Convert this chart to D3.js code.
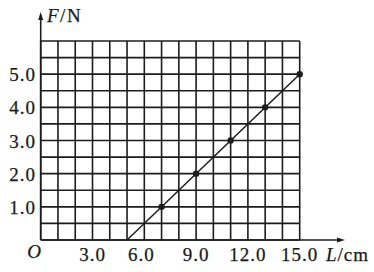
<!DOCTYPE html>
<html><head><meta charset="utf-8">
<script src="https://cdn.jsdelivr.net/npm/d3@7"></script>
<style>
html,body{margin:0;padding:0;background:#fff;}
svg text{font-family:"Liberation Serif","Times New Roman",serif;fill:#1a1a1a;stroke:#1a1a1a;stroke-width:0.25;}
</style></head>
<body><svg id="c" width="374" height="272"></svg>
<script>
// Data
const pointsL = [7.0, 9.0, 11.0, 13.0, 15.0];
const pointsF = [1.0, 2.0, 3.0, 4.0, 5.0];
const fitL = [5.0, 15.0];
const fitF = [0.0, 5.0];
const xTicks = [3.0, 6.0, 9.0, 12.0, 15.0];
const yTicks = [1.0, 2.0, 3.0, 4.0, 5.0];
const gridL = d3.range(0, 15.01, 1);
const gridF = d3.range(0, 6.01, 0.5);

const svg = d3.select("#c");
const x = d3.scaleLinear().domain([0, 15]).range([40.7, 299.7]);
const y = d3.scaleLinear().domain([0, 6]).range([240, 41]);
const ink = "#1c1c1c";
const sw = 1.6;

// grid
svg.append("g").selectAll("line").data(gridL).join("line")
  .attr("x1", d => x(d)).attr("x2", d => x(d))
  .attr("y1", y(0)).attr("y2", y(6))
  .attr("stroke", ink).attr("stroke-width", sw);
svg.append("g").selectAll("line").data(gridF).join("line")
  .attr("y1", d => y(d)).attr("y2", d => y(d))
  .attr("x1", x(0)).attr("x2", x(15))
  .attr("stroke", ink).attr("stroke-width", sw);

// axes with arrows
svg.append("line").attr("x1", x(0)).attr("x2", x(0)).attr("y1", y(0)).attr("y2", 15)
  .attr("stroke", ink).attr("stroke-width", sw);
svg.append("path").attr("d", `M${x(0)},12 L${x(0)-2.5},20 L${x(0)+2.5},20 Z`).attr("fill", ink);
svg.append("line").attr("x1", x(0)).attr("x2", 342).attr("y1", y(0)).attr("y2", y(0))
  .attr("stroke", ink).attr("stroke-width", sw);
svg.append("path").attr("d", `M345,${y(0)} L337,${y(0)-2.5} L337,${y(0)+2.5} Z`).attr("fill", ink);

// fit line
svg.append("path")
  .datum(fitL.map((l, i) => [l, fitF[i]]))
  .attr("d", d3.line().x(d => x(d[0])).y(d => y(d[1])))
  .attr("stroke", ink).attr("stroke-width", 1.5).attr("fill", "none");

// points
svg.append("g").selectAll("circle").data(pointsL).join("circle")
  .attr("cx", d => x(d)).attr("cy", (d, i) => y(pointsF[i]))
  .attr("r", 3.2).attr("fill", ink);

// tick labels
svg.append("g").selectAll("text").data(xTicks).join("text")
  .attr("x", d => x(d) - (d === 6 ? 3 : 0)).attr("y", 261)
  .attr("text-anchor", "middle").attr("font-size", 19).attr("letter-spacing", 1)
  .text(d => d.toFixed(1));
svg.append("g").selectAll("text").data(yTicks).join("text")
  .attr("x", 36).attr("y", d => y(d) + 7)
  .attr("text-anchor", "end").attr("font-size", 19).attr("letter-spacing", 1)
  .text(d => d.toFixed(1));

// origin and axis titles
svg.append("text").attr("x", 34).attr("y", 257.5).attr("text-anchor", "middle")
  .attr("font-size", 19).attr("font-style", "italic").text("O");
const ft = svg.append("text").attr("x", 47).attr("y", 22).attr("font-size", 19).attr("letter-spacing", 1.5);
ft.append("tspan").attr("font-style", "italic").text("F");
ft.append("tspan").text("/N");
const lt = svg.append("text").attr("x", 326).attr("y", 261).attr("font-size", 19).attr("letter-spacing", 1);
lt.append("tspan").attr("font-style", "italic").text("L");
lt.append("tspan").text("/cm");
</script></body></html>
